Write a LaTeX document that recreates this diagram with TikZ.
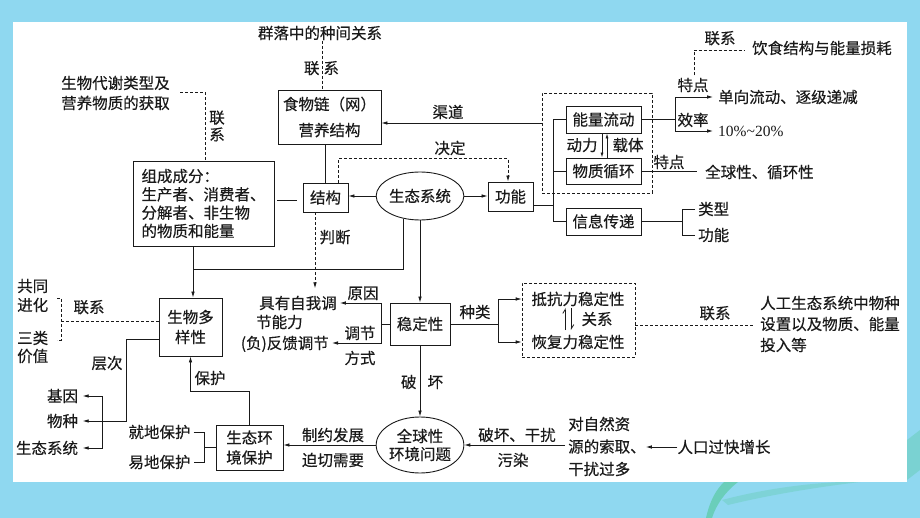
\documentclass[tikz,border=0pt]{standalone}
\usepackage{fontspec}
\setmainfont{Noto Sans CJK SC}[FakeBold=0.35]
\newfontfamily\latf{Liberation Serif}
\usetikzlibrary{arrows.meta,shapes.geometric,calc}
\definecolor{bgblue}{HTML}{8FD8F0}
\definecolor{ink}{HTML}{1A1A1A}
\definecolor{leaf}{HTML}{4CC78F}
\begin{document}
\begin{tikzpicture}[x=1pt,y=-1pt,
  every node/.style={inner sep=0pt, text=ink},
  lbl/.style={font=\fontsize{15.5}{18}\selectfont, text height=13.4pt, text depth=1.6pt},
  ml/.style={font=\fontsize{15.5}{#1}\selectfont, align=left},
  mc/.style={font=\fontsize{15.5}{#1}\selectfont, align=center},
  bx/.style={draw=ink, line width=0.9pt},
  con/.style={draw=ink, line width=0.8pt},
  arr/.style={con, -{Latex[length=6pt,width=3.6pt]}},
  sarr/.style={con, -{Latex[length=5pt,width=3pt]}},
  dsh/.style={dash pattern=on 3pt off 2pt},
]
\useasboundingbox (0,0) rectangle (920,518);
% background
\fill[bgblue] (0,0) rectangle (920,518);
\fill[leaf, opacity=0.55] (706,518) .. controls (710,500) and (716,490) .. (724,482) -- (738,482) .. controls (725,492) and (716,505) .. (712,518) -- cycle;
\fill[leaf, opacity=0.25] (722,500) .. controls (760,490) and (800,484) .. (840,482) -- (860,482) .. controls (810,488) and (765,496) .. (728,505) -- cycle;
\fill[leaf, opacity=0.3] (907,440) -- (920,430) -- (920,470) -- (907,480) -- cycle;
\fill[white] (13,22) rectangle (907,482);

% ---------- upper left ----------
\node[lbl] (qunluo) at (320,33) {群落中的种间关系};
\node[lbl] (lx1) at (321.5,68) {联\hspace{4pt}系};
\node[bx, minimum width=103pt, minimum height=54pt, mc=26pt] (food) at (329.5,117) {食物链（网）\\营养结构};
\coordinate (f1) at ($(food.north)+(-7.5,0)$);
\draw[con,dsh] (f1 |- qunluo.south) -- (f1);

\node[ml=20pt, anchor=west] (sm) at (61,93) {生物代谢类型及\\营养物质的获取};
\node[mc=17pt] (lx2) at (217,126) {联\\系};
\node[bx, minimum width=141pt, minimum height=85pt, ml=18.3pt] (comp) at (203.5,203.5) {组成成分：\\生产者、消费者、\\分解者、非生物\\的物质和能量};
\draw[con,dsh] ($(sm.east)+(10.5,-1)$) -| ($(comp.north)+(1.5,0)$);

\node[bx, lbl, minimum width=45pt, minimum height=29pt] (jg) at (325.5,197.5) {结构};
\node[ellipse, draw=ink, line width=0.9pt, minimum width=84pt, minimum height=48pt, lbl] (eco) at (420,196) {生态系统};
\node[bx, lbl, minimum width=45pt, minimum height=29pt] (gn) at (510.5,196.5) {功能};
\node[lbl] (jd) at (450,148) {决定};
\node[lbl] (pd) at (335,237) {判断};

\draw[con] (jg.north) -- (jg.north |- food.south);
\draw[con] ($(comp.east)+(3,-3.5)$) -- ($(jg.west)+(-6,2.5)$);
\draw[arr] (eco.west) -- (eco.west -| jg.east);
\draw[arr] (eco.east) -- (eco.east -| gn.west);
\draw[arr,dsh] ($(jg.north)+(12.5,0)$) -- ++(0,-24) -| ($(gn.north)+(-2.5,0)$);

% ---------- middle ----------
\node[lbl, anchor=west] (self1) at (259,303) {具有自我调};
\node[lbl, anchor=west] (self2) at (256,322) {节能力};
\node[lbl, anchor=east] (fk) at (329,343) {(负)反馈调节};
\node[bx, lbl, minimum width=60pt, minimum height=42pt] (wd) at (420,324) {稳定性};
\node[lbl] (yy) at (363,293) {原因};
\node[lbl] (tj) at (360,333) {调节};
\node[lbl] (fs) at (360,358) {方式};

\coordinate (pj) at ($(jg.south)+(-10.5,0)$);
\draw[arr,dsh] (pj) -- ($(pj |- self1.north)+(0,-7)$);

\coordinate (w1) at ($(wd.west)+(-8,0)$);
\draw[con] (wd.west) -- (w1);
\draw[arr,shorten >=3pt] (w1) |- (self1.east);
\draw[arr,shorten >=3pt] (w1) |- (fk.east);

\draw[arr] (eco.south) -- (wd.north);

\node[lbl] (zl) at (475,312) {种类};
\node[lbl] (kk) at (578,299) {抵抗力稳定性};
\node[lbl] (hf) at (578,342) {恢复力稳定性};
\node[draw=ink, line width=0.8pt, dsh, minimum width=113pt, minimum height=74pt] (db1) at (578.5,320) {};
\node[lbl] (gx) at (597,319) {关系};
\draw[con, -{Straight Barb[harpoon,length=4pt,width=5pt]}] ($(gx.west)+(-16,11)$) -- ($(gx.west)+(-16,-11)$);
\draw[con, -{Straight Barb[harpoon,length=4pt,width=5pt]}] ($(gx.west)+(-10,-11)$) -- ($(gx.west)+(-10,11)$);

\coordinate (w2) at ($(wd.east)+(48,0)$);
\draw[con] (wd.east) -- (w2);
\draw[arr] (w2) |- (kk -| db1.west);
\draw[arr] (w2) |- (hf -| db1.west);

\node[ml=21pt, anchor=west] (rg) at (760,324) {人工生态系统中物种\\设置以及物质、能量\\投入等};
\node[lbl] (lx3) at (715,313) {联系};
\coordinate (d1) at ($(db1.east)+(0,5)$);
\draw[con,dsh,shorten >=7pt] (d1) -- (d1 -| rg.west);

% ---------- bottom ----------
\node[ellipse, draw=ink, line width=0.9pt, minimum width=80pt, minimum height=56pt, mc=18pt] (gl) at (420,445) {全球性\\环境问题};
\node[lbl] (ph) at (422,382) {破\hspace{11pt}坏};
\draw[arr] (wd.south) -- (gl.north);

\node[bx, minimum width=67pt, minimum height=45pt, mc=20pt] (bh) at (249.5,447.5) {生态环\\境保护};
\node[lbl] (zy) at (333,435) {制约发展};
\node[lbl] (pq) at (333,460) {迫切需要};
\draw[arr] (gl.west) -- (gl.west -| bh.east);

\node[lbl] (phg) at (517,435) {破坏、干扰};
\node[lbl] (wr) at (513,460) {污染};
\node[ml=22.5pt, anchor=west] (zr) at (568,446.5) {对自然资\\源的索取、\\干扰过多};
\node[lbl] (rk) at (724,447) {人口过快增长};
\draw[arr] (rk.west) -- (rk.west -| zr.east);
\draw[arr,shorten <=3pt] (gl.east -| zr.west) -- (gl.east);

\node[lbl] (jd2) at (159.5,432) {就地保护};
\node[lbl] (yd) at (159.5,462) {易地保护};
\coordinate (bk) at ($(bh.west)+(-11,0)$);
\draw[con] (bh.west) -- (bk);
\draw[con] ($(jd2.east)+(3,0)$) -| (bk |- yd.east) -- ($(yd.east)+(3,0)$);

\node[bx, minimum width=63pt, minimum height=58pt, mc=20pt] (sw) at (190.5,327) {生物多\\样性};
\node[lbl] (bhl) at (210,378) {保护};
\draw[arr] (bh.north) -- ++(0,-33) -| (sw.south);

\coordinate (c1) at ($(sw.north)+(2.5,0)$);
\draw[arr] (c1 |- comp.south) -- (c1);
\draw[con] (eco.234) |- ($(c1)+(0,-28)$);

\node[lbl] (jy) at (62.5,396) {基因};
\node[lbl] (wz) at (62.5,421) {物种};
\node[lbl] (st) at (47,448) {生态系统};
\node[lbl] (cc) at (107,363) {层次};
\coordinate (s1) at ($(sw.west)+(0,12)$);
\draw[arr,shorten >=4.5pt] (s1) -- ++(-32,0) |- (wz.east);
\coordinate (b1) at ($(wz.east)+(24.5,0)$);
\draw[arr,shorten >=4.5pt] (b1) |- (jy.east);
\draw[arr,shorten >=4.5pt] (b1) |- (st.east);

\node[ml=19pt, anchor=west] (gt) at (17,295.5) {共同\\进化};
\node[ml=18pt, anchor=west] (sl) at (17,347) {三类\\价值};
\node[lbl] (lx4) at (89,307) {联系};
\coordinate (k1) at (61,321);
\coordinate (k2) at (57,298);
\coordinate (k3) at (57,340);
\coordinate (s2) at ($(sw.west)+(0,-6)$);
\draw[con,dsh] (s2) -- (k1);
\draw[con,dsh] (k2) -- (k2 -| k1) -- (k3 -| k1) -- (k3);

% ---------- upper right ----------
\node[draw=ink, line width=0.8pt, dsh, minimum width=110pt, minimum height=100pt] (db2) at (597,143) {};
\node[bx, lbl, minimum width=75pt, minimum height=27pt] (nl) at (603.5,119.5) {能量流动};
\node[bx, lbl, minimum width=75pt, minimum height=26pt] (wx) at (603.5,171) {物质循环};
\node[bx, lbl, minimum width=75pt, minimum height=27pt] (xx) at (603.5,221.5) {信息传递};

\coordinate (g1) at ($(gn.east)+(0,8.5)$);
\coordinate (bus) at ($(g1)+(20,0)$);
\draw[con] (g1) -- (bus);
\draw[con] (nl.west) -| (bus |- xx.west) -- (xx.west);
\draw[con] (wx.west) -- (wx.west -| bus);

\coordinate (q1) at ($(db2.west)+(0,-20)$);
\draw[arr] (q1) -- (q1 -| food.east);
\node[lbl] (qd) at (448,112) {渠道};

\draw[sarr] ($(nl.south)+(-1.5,0)$) -- ($(wx.north)+(-1.5,0)$);
\draw[sarr] ($(wx.north)+(3.5,0)$) -- ($(nl.south)+(3.5,0)$);
\node[lbl] (dl) at (582,145) {动力};
\node[lbl] (zt) at (628,145) {载体};

\coordinate (n1) at ($(nl.east)+(34,0)$);
\draw[con] (nl.east) -- (n1);
\node[lbl, anchor=west] (dx) at (718,97) {单向流动、逐级递减};
\node[font=\latf\fontsize{15.5}{18}\selectfont, text height=11pt, text depth=0pt, anchor=west] (xl) at (718,131) {10\%\textasciitilde 20\%};
\draw[arr,shorten >=5pt] (n1) |- (dx.west);
\draw[arr,shorten >=5pt] (n1) |- (xl.west);
\node[lbl] (td1) at (693,85) {特点};
\node[lbl] (xlv) at (693,120) {效率};
\node[lbl, anchor=west] (ys) at (752,48) {饮食结构与能量损耗};
\node[lbl] (lx5) at (720,38) {联系};
\draw[con,dsh] ($(td1.north)+(1,-2)$) |- ($(ys.west)+(-7,2)$);

\node[lbl, anchor=west] (qq) at (705,172) {全球性、循环性};
\draw[con,shorten >=8pt] (wx.east) -- (wx.east -| qq.west);
\node[lbl] (td2) at (669,162) {特点};

\coordinate (x1) at ($(xx.east)+(41,0)$);
\draw[con] (xx.east) -- (x1);
\node[lbl, anchor=west] (lxg) at (698,209) {类型};
\node[lbl, anchor=west] (gn2) at (698,235) {功能};
\draw[con] ($(lxg.west)+(-3,0)$) -| (x1 |- gn2.west) -- ($(gn2.west)+(-3,0)$);
\end{tikzpicture}
\end{document}
